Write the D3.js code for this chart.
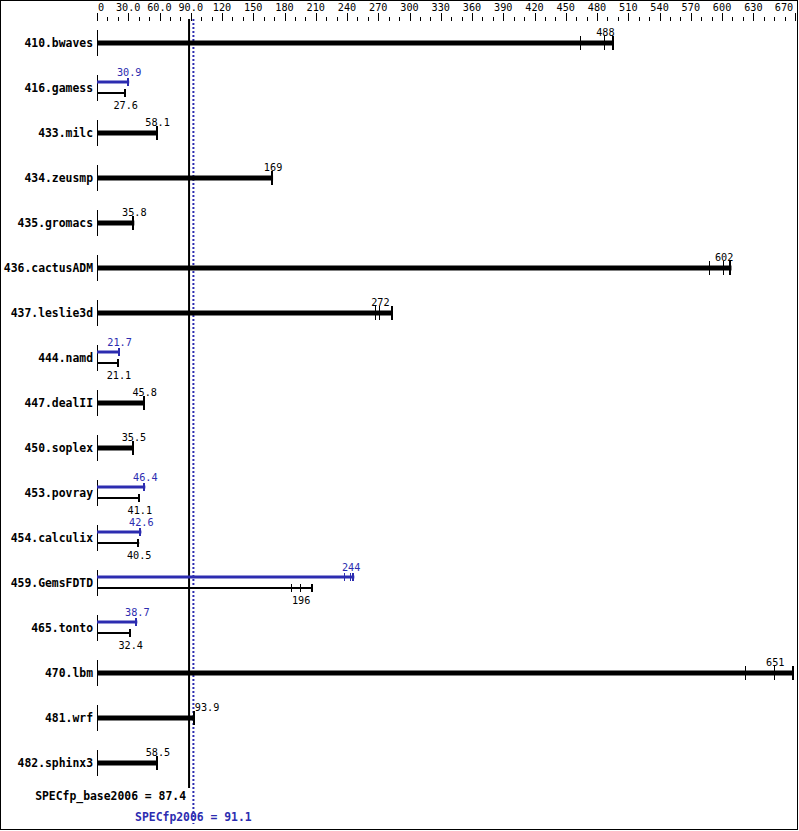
<!DOCTYPE html>
<html><head><meta charset="utf-8">
<script src="https://cdn.jsdelivr.net/npm/d3@7"></script>
<style>body{margin:0;background:#fff}svg{display:block}</style>
</head><body>
<script>
const benchmarks = ["410.bwaves","416.gamess","433.milc","434.zeusmp","435.gromacs","436.cactusADM","437.leslie3d","444.namd","447.dealII","450.soplex","453.povray","454.calculix","459.GemsFDTD","465.tonto","470.lbm","481.wrf","482.sphinx3"];
const baseRatio = [488,27.6,58.1,169,35.8,602,272,21.1,45.8,35.5,41.1,40.5,196,32.4,651,93.9,58.5];
const peakRatio = [null,30.9,null,null,null,null,null,21.7,null,null,46.4,42.6,244,38.7,null,null,null];
const baseRuns = [[465,488,496],[27.6],[58.1],[169],[35.8],[588,602,609],[268,272,284],[21.1],[45.8],[35.5],[41.1],[40.5],[187,196,207],[32.4],[623,651,669],[93.9],[58.5]];
const peakRuns = [null,[30.9],null,null,null,null,null,[21.7],null,null,[46.4],[42.6],[238,244,247],[38.7],null,null,null];
const tickLabels = ["0","30.0","60.0","90.0","120","150","180","210","240","270","300","330","360","390","420","450","480","510","540","570","600","630","670"];
const tickValues = [0,30,60,90,120,150,180,210,240,270,300,330,360,390,420,450,480,510,540,570,600,630,670];
const minorTicks = d3.range(0, 671, 10);
const baseMean = 87.4, peakMean = 91.1;
const baseMeanLabel = "SPECfp_base2006 = 87.4", peakMeanLabel = "SPECfp2006 = 91.1";

const W = 799, H = 831;
const BLUE = "#2c2cb0";
const FONT = "'DejaVu Sans Mono', monospace";
const svg = d3.select("body").append("svg").attr("width", W).attr("height", H);
svg.append("rect").attr("x",0.5).attr("y",0.5).attr("width",W-2).attr("height",H-2).attr("fill","none").attr("stroke","#000");

const x = d3.scaleLinear().domain([0,670]).range([97, 795]);
const y = d3.scalePoint().domain(benchmarks).range([43, 763]);

// axis
const ax = svg.append("g");
ax.selectAll("line.minor").data(minorTicks).join("line")
  .attr("x1", d=>Math.round(x(d))+0.5).attr("x2", d=>Math.round(x(d))+0.5)
  .attr("y1", d=> tickValues.includes(d)?13:17).attr("y2", 21).attr("stroke","#000");
ax.selectAll("text").data(tickValues).join("text")
  .attr("x", (d,i)=> i===0 ? x(d)+4 : (i===tickValues.length-1 ? x(d)-11 : x(d)))
  .attr("y", 11).attr("text-anchor","middle")
  .attr("font-family",FONT).attr("font-size","10.2px").attr("fill","#000")
  .text((d,i)=>tickLabels[i]);

// mean lines
svg.append("line").attr("x1",x(baseMean)+1).attr("x2",x(baseMean)+1).attr("y1",19).attr("y2",788)
  .attr("stroke","#000").attr("stroke-width",2);
svg.append("line").attr("x1",x(peakMean)+1.5).attr("x2",x(peakMean)+1.5).attr("y1",19).attr("y2",824)
  .attr("stroke",BLUE).attr("stroke-width",2).attr("stroke-dasharray","2,2");

const rows = svg.append("g").selectAll("g").data(benchmarks).join("g");
rows.each(function(name, i){
  const g = d3.select(this);
  const cy = y(name);
  g.append("text").attr("x",93).attr("y",cy+4).attr("text-anchor","end")
    .attr("font-family",FONT).attr("font-weight","bold").attr("font-size","11.4px").text(name);
  g.append("line").attr("x1",97.5).attr("x2",97.5).attr("y1",cy-13).attr("y2",cy+13).attr("stroke","#000");
  const drawBar = (runs, val, yy, color, sw, th, labelY) => {
    const mx = d3.max(runs);
    g.append("line").attr("x1",97).attr("x2",x(mx)).attr("y1",yy).attr("y2",yy)
      .attr("stroke",color).attr("stroke-width",sw);
    runs.forEach((r,k)=>{
      const w = (r === mx) ? 2 : 1;
      const xx = (r === mx) ? Math.round(x(r)) - 1 : Math.round(x(r)) - 0.5;
      g.append("line").attr("x1",xx).attr("x2",xx)
        .attr("y1",yy-th).attr("y2",yy+th).attr("stroke",color).attr("stroke-width",w);
    });
    let lx = x(val), anchor = "middle";
    const txt = String(val);
    const half = txt.length*6.2/2;
    if (Math.abs(lx - x(baseMean)) < half+2 || Math.abs(lx - x(peakMean)) < half+2) { lx = x(mx); anchor = "start"; }
    g.append("text").attr("x",lx).attr("y",labelY).attr("text-anchor",anchor)
      .attr("font-family",FONT).attr("font-size","10.2px").attr("fill",color).text(txt);
  };
  if (peakRatio[i] == null) {
    drawBar(baseRuns[i], baseRatio[i], cy, "#000", 5, 7, cy-7);
  } else {
    drawBar(peakRuns[i], peakRatio[i], cy-6, BLUE, 3, 4, cy-12);
    drawBar(baseRuns[i], baseRatio[i], cy+5, "#000", 2, 4, cy+21);
  }
});

svg.append("text").attr("x",186).attr("y",800).attr("text-anchor","end")
  .attr("font-family",FONT).attr("font-weight","bold").attr("font-size","11.4px").text(baseMeanLabel);
svg.append("text").attr("x",x(peakMean)+1.5).attr("y",821).attr("text-anchor","middle")
  .attr("font-family",FONT).attr("font-weight","bold").attr("font-size","11.4px").attr("fill",BLUE).text(peakMeanLabel);
</script>
</body></html>
